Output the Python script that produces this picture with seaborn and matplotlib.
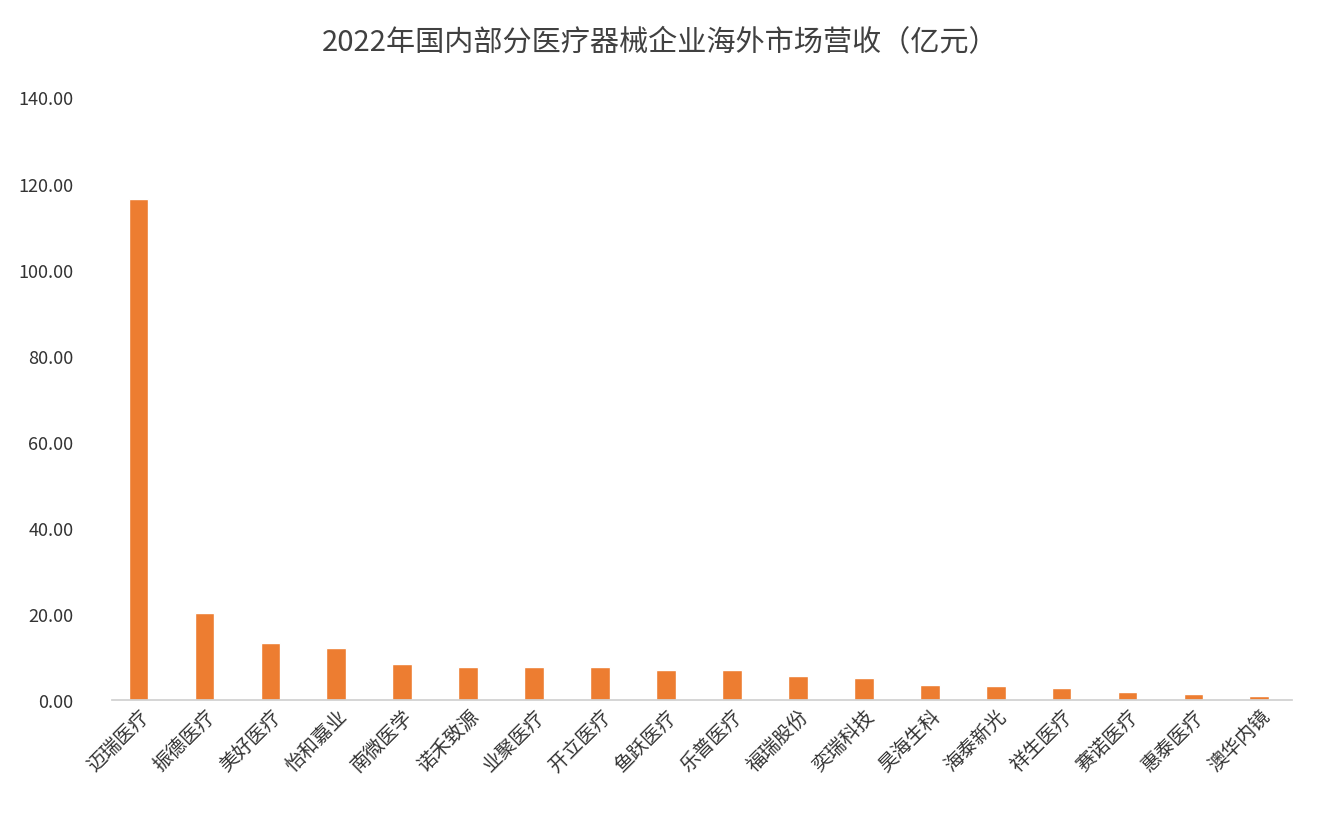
import matplotlib
matplotlib.use("Agg")
import matplotlib.pyplot as plt
import seaborn as sns
import pandas as pd

companies = ["迈瑞医疗","振德医疗","美好医疗","怡和嘉业","南微医学","诺禾致源","业聚医疗","开立医疗","鱼跃医疗",
             "乐普医疗","福瑞股份","奕瑞科技","昊海生科","海泰新光","祥生医疗","赛诺医疗","惠泰医疗","澳华内镜"]
revenue = [116.5,20.2,13.3,12.0,8.3,7.8,7.8,7.8,6.9,6.9,5.5,5.1,3.6,3.2,2.8,1.8,1.4,0.9]
yticks = [0,20,40,60,80,100,120,140]

sns.set_theme(style="white")
plt.rcParams['font.family'] = ['Noto Sans CJK SC', 'DejaVu Sans']

df = pd.DataFrame({"c": companies, "v": revenue})
fig = plt.figure(figsize=(13.2, 8.2), dpi=100)
ax = fig.add_axes([0.085, 0.145, 0.894, 0.735])
sns.barplot(data=df, x="c", y="v", color="#ED7D31", width=0.3, ax=ax, saturation=1)
ax.set_ylim(0, 140)
ax.set_yticks(yticks)
ax.set_yticklabels([f"{t:.2f}" for t in yticks], fontsize=13, color="#333333")
ax.tick_params(axis="y", length=0, pad=28)
ax.tick_params(axis="x", length=0)
ax.set_xticks(range(len(companies)))
ax.set_xticklabels(companies, rotation=45, ha="right", rotation_mode="anchor", fontsize=14, color="#333333")
ax.set_xlabel("")
ax.set_ylabel("")
for s in ["top", "right", "left"]:
    ax.spines[s].set_visible(False)
ax.spines["bottom"].set_color("#d0d0d0")
ax.set_xlim(-0.4, len(companies) - 0.5)
fig.suptitle("2022年国内部分医疗器械企业海外市场营收（亿元）", y=0.965, fontsize=21, color="#404040")
fig.savefig("out.png", dpi=100)
